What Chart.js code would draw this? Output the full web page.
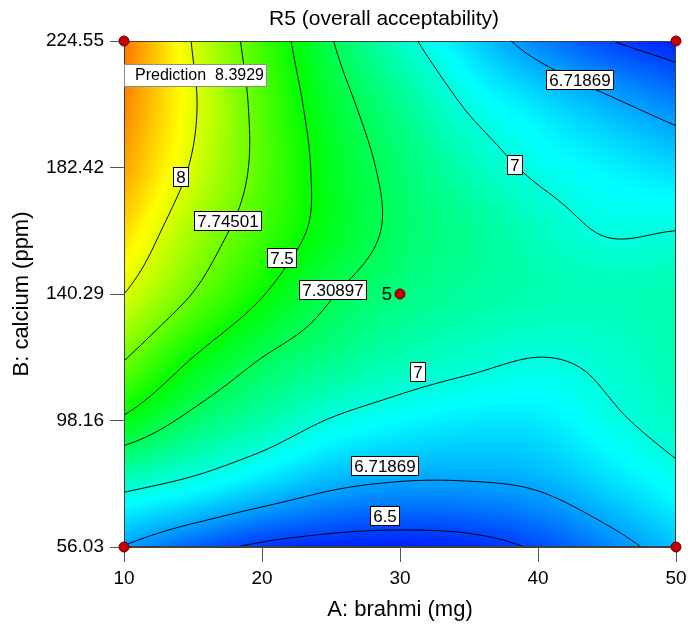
<!DOCTYPE html>
<html>
<head>
<meta charset="utf-8">
<script src="https://cdn.jsdelivr.net/npm/chart.js@4.4.0/dist/chart.umd.min.js"></script>
<style>
  html, body { margin: 0; padding: 0; background: #fff; }
  #wrap { width: 688px; height: 629px; }
</style>
</head>
<body>
<div id="wrap"><canvas id="chart" width="688" height="629"></canvas></div>
<script>
// ===== Data =====
const chartTitle = 'R5 (overall acceptability)';
const brahmiTicks = [10, 20, 30, 40, 50];
const calciumTicks = [56.03, 98.16, 140.29, 182.42, 224.55];

const gridA = [10, 15, 20, 25, 30, 35, 40, 45, 50];
const gridB = [56.03, 77.10, 98.16, 119.23, 140.29, 161.36, 182.42, 203.49, 224.55];
// R5 values, one row per calcium level (bottom row first)
const r5Rows = [
    [6.71, 6.57, 6.47, 6.43, 6.42, 6.44, 6.52, 6.65, 6.79],
    [7.05, 6.96, 6.85, 6.75, 6.71, 6.71, 6.74, 6.84, 6.95],
    [7.47, 7.26, 7.12, 6.99, 6.92, 6.88, 6.88, 6.97, 7.06],
    [7.76, 7.50, 7.31, 7.20, 7.10, 7.04, 7.00, 7.03, 7.10],
    [8.00, 7.74, 7.51, 7.32, 7.21, 7.14, 7.10, 7.08, 7.10],
    [8.16, 7.87, 7.64, 7.43, 7.27, 7.17, 7.07, 6.99, 7.00],
    [8.28, 7.98, 7.69, 7.43, 7.25, 7.09, 6.97, 6.90, 6.84],
    [8.35, 8.02, 7.68, 7.39, 7.18, 6.98, 6.86, 6.75, 6.65],
    [8.39, 7.99, 7.64, 7.32, 7.06, 6.84, 6.65, 6.51, 6.42]
];

const contourLevels = [6.5, 6.71869, 7, 7.30897, 7.5, 7.74501, 8];
const contourLabelText = ['8', '7.74501', '7.5', '7.30897', '6.71869', '7', '7', '6.71869', '6.5'];
const contourLabelA = [14.16, 17.54, 21.45, 25.16, 43.04, 38.33, 31.3, 28.9, 28.9];
const contourLabelB = [179.3, 164.6, 152.3, 141.6, 211.6, 183.3, 114.3, 83.0, 66.4];

// design points
const designA = [10, 10, 50, 50, 30];
const designB = [56.03, 224.55, 56.03, 224.55, 140.29];
const designReps = [1, 1, 1, 1, 5];

// prediction flag
const flagA = 10, flagB = 224.55, flagValue = '8.3929';

// colour ramp range
const colorMin = 6.35, colorMax = 8.65;

// ===== Surface helpers =====
function catmull(p0, p1, p2, p3, t) {
    return p1 + 0.5 * t * (p2 - p0 + t * (2 * p0 - 5 * p1 + 4 * p2 - p3 + t * (3 * (p1 - p2) + p3 - p0)));
}
function gridPos(arr, val) {
    for (let i = 0; i < arr.length - 1; i++) {
        if (val <= arr[i + 1]) return i + (val - arr[i]) / (arr[i + 1] - arr[i]);
    }
    return arr.length - 1;
}
function rowValue(row, k) {
    const n = row.length;
    if (k < 0) return 2 * row[0] - row[1];
    if (k > n - 1) return 2 * row[n - 1] - row[n - 2];
    return row[k];
}
function r5At(a, b) {
    const u = gridPos(gridA, a), v = gridPos(gridB, b);
    const i = Math.min(gridA.length - 2, Math.max(0, Math.floor(u)));
    const j = Math.min(gridB.length - 2, Math.max(0, Math.floor(v)));
    const last = r5Rows.length - 1;
    const col = [];
    for (let k = -1; k <= 2; k++) {
        let row;
        const r = j + k;
        if (r < 0) row = r5Rows[0].map((x, c) => 2 * x - r5Rows[1][c]);
        else if (r > last) row = r5Rows[last].map((x, c) => 2 * x - r5Rows[last - 1][c]);
        else row = r5Rows[r];
        col.push(catmull(rowValue(row, i - 1), row[i], row[i + 1], rowValue(row, i + 2), u - i));
    }
    return catmull(col[0], col[1], col[2], col[3], v - j);
}
function rampColor(v) {
    let t = (v - colorMin) / (colorMax - colorMin);
    t = Math.max(0, Math.min(1, t));
    const stops = [[0, 0, 255], [0, 255, 255], [0, 255, 0], [255, 255, 0], [255, 0, 0]];
    const s = t * 4, k = Math.min(3, Math.floor(s)), f = s - k;
    return stops[k].map((c, i) => Math.round(c + (stops[k + 1][i] - c) * f));
}

// marching squares on a fine sample of the surface
function contourSegments(level, xs, ys, vals) {
    const segs = [];
    const cross = (va, vb, pa, pb) => {
        const t = (level - va) / (vb - va);
        return [pa[0] + (pb[0] - pa[0]) * t, pa[1] + (pb[1] - pa[1]) * t];
    };
    for (let j = 0; j < ys.length - 1; j++) {
        for (let i = 0; i < xs.length - 1; i++) {
            const c = [[xs[i], ys[j]], [xs[i + 1], ys[j]], [xs[i + 1], ys[j + 1]], [xs[i], ys[j + 1]]];
            const v = [vals[j][i], vals[j][i + 1], vals[j + 1][i + 1], vals[j + 1][i]];
            const up = v.map(x => x >= level);
            const e = [];
            for (let k = 0; k < 4; k++) {
                const k2 = (k + 1) % 4;
                e.push(up[k] !== up[k2] ? cross(v[k], v[k2], c[k], c[k2]) : null);
            }
            const hits = e.filter(p => p);
            if (hits.length === 2) segs.push(hits);
            else if (hits.length === 4) {
                const mid = (v[0] + v[1] + v[2] + v[3]) / 4 >= level;
                if (mid === up[0]) { segs.push([e[0], e[1]]); segs.push([e[2], e[3]]); }
                else { segs.push([e[3], e[0]]); segs.push([e[1], e[2]]); }
            }
        }
    }
    return segs;
}

// ===== Surface plugin =====
const surfacePlugin = {
    id: 'surface',
    beforeDatasetsDraw(chart) {
        const { ctx, chartArea: area, scales: { x, y } } = chart;
        const w = Math.round(area.right - area.left), h = Math.round(area.bottom - area.top);

        // filled colour map
        const off = document.createElement('canvas');
        off.width = w; off.height = h;
        const octx = off.getContext('2d');
        const img = octx.createImageData(w, h);
        for (let py = 0; py < h; py++) {
            const b = y.getValueForPixel(area.top + py + 0.5);
            for (let px = 0; px < w; px++) {
                const a = x.getValueForPixel(area.left + px + 0.5);
                const col = rampColor(r5At(a, b));
                const o = (py * w + px) * 4;
                img.data[o] = col[0]; img.data[o + 1] = col[1]; img.data[o + 2] = col[2]; img.data[o + 3] = 255;
            }
        }
        octx.putImageData(img, 0, 0);
        ctx.drawImage(off, area.left, area.top);

        // contour lines
        const xs = [], ys = [];
        for (let i = 0; i <= 160; i++) xs.push(x.min + (x.max - x.min) * i / 160);
        for (let j = 0; j <= 150; j++) ys.push(y.min + (y.max - y.min) * j / 150);
        const vals = ys.map(b => xs.map(a => r5At(a, b)));
        ctx.save();
        ctx.strokeStyle = '#000';
        ctx.lineWidth = 1;
        ctx.beginPath();
        contourLevels.forEach(level => {
            contourSegments(level, xs, ys, vals).forEach(s => {
                ctx.moveTo(x.getPixelForValue(s[0][0]), y.getPixelForValue(s[0][1]));
                ctx.lineTo(x.getPixelForValue(s[1][0]), y.getPixelForValue(s[1][1]));
            });
        });
        ctx.stroke();

        // plot frame
        ctx.strokeStyle = '#404040';
        ctx.strokeRect(area.left + 0.5, area.top + 0.5, w - 1, h - 1);

        // contour labels
        ctx.font = "17px 'Liberation Sans', Arial, sans-serif";
        ctx.textAlign = 'center';
        ctx.textBaseline = 'middle';
        contourLabelText.forEach((t, i) => {
            const px = Math.round(x.getPixelForValue(contourLabelA[i]));
            const py = Math.round(y.getPixelForValue(contourLabelB[i]));
            const tw = Math.ceil(ctx.measureText(t).width) + 6;
            ctx.fillStyle = '#fff';
            ctx.fillRect(px - tw / 2, py - 10, tw, 20);
            ctx.strokeStyle = '#000';
            ctx.strokeRect(Math.round(px - tw / 2) + 0.5, py - 9.5, tw - 1, 19);
            ctx.fillStyle = '#000';
            ctx.fillText(t, px, py + 1);
        });

        // prediction flag
        const fx = Math.round(x.getPixelForValue(flagA)), fy = Math.round(y.getPixelForValue(flagB));
        ctx.font = "16px 'Liberation Sans', Arial, sans-serif";
        ctx.fillStyle = '#fff';
        ctx.fillRect(fx, fy + 23, 143, 23);
        ctx.strokeStyle = '#8c8c8c';
        ctx.strokeRect(fx + 0.5, fy + 23.5, 142, 22);
        ctx.fillStyle = '#000';
        ctx.textAlign = 'left';
        ctx.fillText('Prediction  ' + flagValue, fx + 11, fy + 35);
        ctx.restore();
    },
    afterDraw(chart) {
        const { ctx, scales: { x, y } } = chart;
        ctx.save();
        // replicate count next to design points
        ctx.font = "19px 'Liberation Sans', Arial, sans-serif";
        ctx.fillStyle = '#000';
        ctx.textAlign = 'right';
        ctx.textBaseline = 'middle';
        designReps.forEach((n, i) => {
            if (n > 1) ctx.fillText(String(n), x.getPixelForValue(designA[i]) - 8, y.getPixelForValue(designB[i]) + 1);
        });
        // title
        ctx.font = "21px 'Liberation Sans', Arial, sans-serif";
        ctx.textAlign = 'center';
        ctx.fillText(chartTitle, 384, 19);
        ctx.restore();
    }
};

// ===== Chart =====
Chart.defaults.font.family = "'Liberation Sans', Arial, sans-serif";
Chart.defaults.color = '#000';

new Chart(document.getElementById('chart'), {
    type: 'scatter',
    data: {
        datasets: [{
            data: designA.map((a, i) => ({ x: a, y: designB[i] })),
            pointRadius: 5,
            backgroundColor: '#c80000',
            borderColor: '#5a0000',
            borderWidth: 1,
            clip: false
        }]
    },
    options: {
        responsive: false,
        animation: false,
        layout: { autoPadding: false, padding: { top: 41, right: 12, left: 0, bottom: 0 } },
        plugins: { legend: { display: false }, tooltip: { enabled: false } },
        scales: {
            x: {
                type: 'linear', min: 10, max: 50,
                afterBuildTicks: s => { s.ticks = brahmiTicks.map(v => ({ value: v })); },
                afterFit: s => { s.height = 82; s.paddingLeft = 0; s.paddingRight = 0; },
                grid: { drawOnChartArea: false, tickLength: 15, color: '#555' },
                border: { color: '#404040' },
                ticks: { font: { size: 19 }, padding: 5, maxRotation: 0, callback: v => String(v) },
                title: { display: true, text: 'A: brahmi (mg)', font: { size: 22 }, padding: { top: 0, bottom: 6 } }
            },
            y: {
                type: 'linear', min: 56.03, max: 224.55,
                afterBuildTicks: s => { s.ticks = calciumTicks.map(v => ({ value: v })); },
                afterFit: s => { s.width = 124; s.paddingTop = 0; s.paddingBottom = 0; },
                grid: { drawOnChartArea: false, tickLength: 14, color: '#555' },
                border: { color: '#404040' },
                ticks: { font: { size: 19 }, padding: 6, callback: v => Number(v).toFixed(2) },
                title: { display: true, text: 'B: calcium (ppm)', font: { size: 22 }, padding: { top: 9, bottom: 0 } }
            }
        }
    },
    plugins: [surfacePlugin]
});
</script>
</body>
</html>
